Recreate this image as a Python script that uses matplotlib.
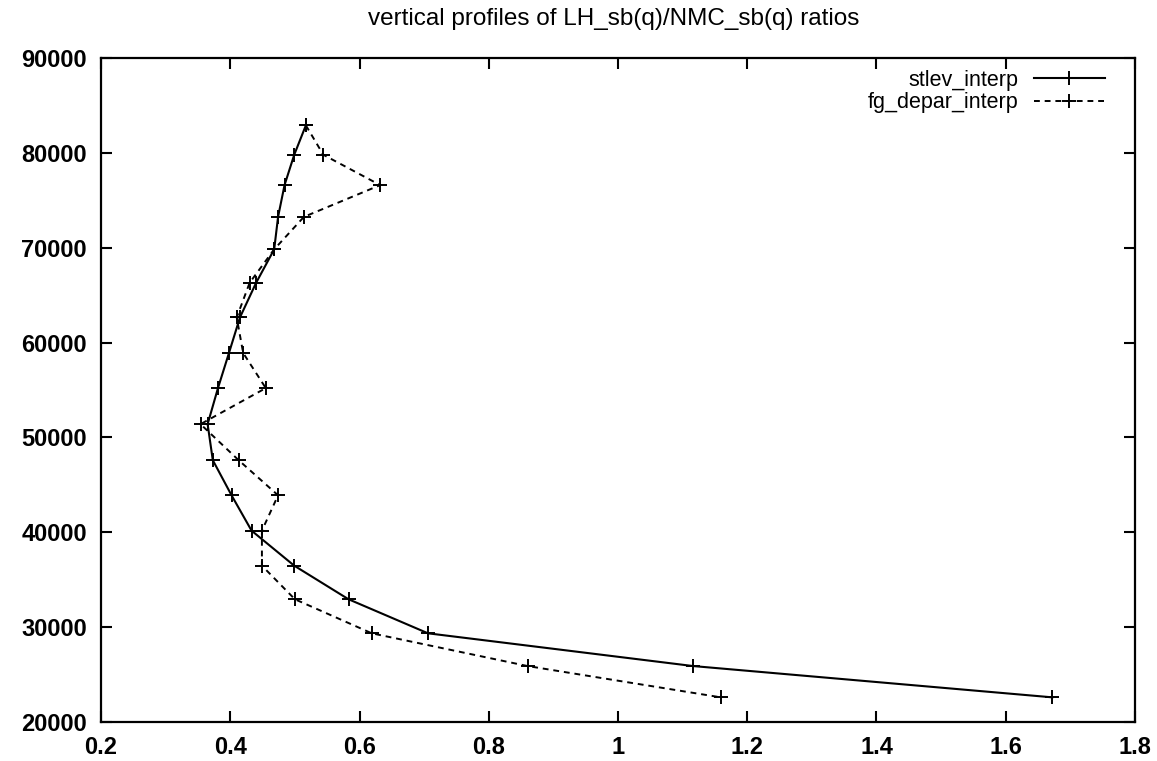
import matplotlib
matplotlib.use("Agg")
import matplotlib.pyplot as plt

plt.rcParams['font.family'] = ['Liberation Sans', 'DejaVu Sans']

# pressure levels (y) shared by both profiles
levels = [82900, 79800, 76600, 73250, 69830, 66300, 62650, 58900, 55200,
          51400, 47600, 43900, 40170, 36480, 32940, 29350, 25900, 22600]

stlev_interp = [0.517, 0.499, 0.484, 0.474, 0.468, 0.440, 0.415, 0.398, 0.381,
                0.365, 0.373, 0.402, 0.433, 0.499, 0.583, 0.706, 1.116, 1.672]

fg_depar_interp = [0.517, 0.544, 0.632, 0.514, 0.468, 0.430, 0.410, 0.420, 0.455,
                   0.354, 0.413, 0.474, 0.449, 0.449, 0.500, 0.619, 0.860, 1.159]

xticks = [0.2, 0.4, 0.6, 0.8, 1.0, 1.2, 1.4, 1.6, 1.8]
xticklabels = ['0.2', '0.4', '0.6', '0.8', '1', '1.2', '1.4', '1.6', '1.8']
yticks = [20000, 30000, 40000, 50000, 60000, 70000, 80000, 90000]

W, H = 1157, 761
fig = plt.figure(figsize=(W / 100, H / 100), dpi=100)
ax = fig.add_axes([101 / W, 1 - 722 / H, (1135 - 101) / W, (722 - 58) / H])

ax.plot(stlev_interp, levels, color='black', lw=1.5, marker='+',
        markersize=10, mew=1.4, label='stlev_interp')
ax.plot(fg_depar_interp, levels, color='black', lw=1.4, ls=(0, (3, 2.5)),
        marker='+', markersize=10, mew=1.4, label='fg_depar_interp')

ax.set_xlim(0.2, 1.8)
ax.set_ylim(20000, 90000)
ax.set_xticks(xticks)
ax.set_xticklabels(xticklabels)
ax.set_yticks(yticks)
ax.tick_params(direction='in', length=8, width=1.5, top=True, right=True,
               pad=10, labelsize=17)
for lab in ax.get_xticklabels() + ax.get_yticklabels():
    lab.set_fontweight('bold')
for sp in ax.spines.values():
    sp.set_linewidth(1.6)

fig.text(614 / W, 1 - 19 / H, 'vertical profiles of LH_sb(q)/NMC_sb(q) ratios',
         ha='center', va='center', fontsize=17.5)

ax.legend(loc='upper right', bbox_to_anchor=(1105 / W, 1 - 70 / H),
          bbox_transform=fig.transFigure, frameon=False, markerfirst=False,
          fontsize=15.5, handlelength=3.3, handletextpad=0.7, borderpad=0,
          borderaxespad=0, labelspacing=0.05)

fig.savefig('out.png', dpi=100)
